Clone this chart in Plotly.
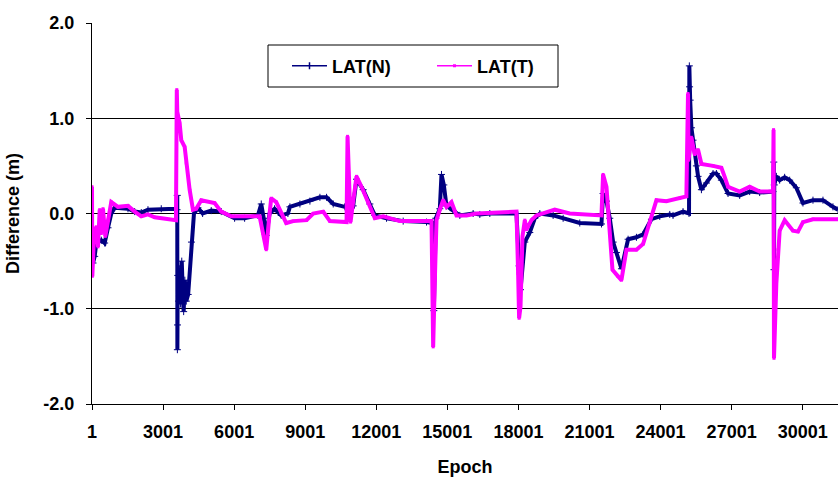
import plotly.graph_objects as go

# ---- data ----
epoch_n = [1, 43, 115, 183, 393, 535, 676, 815, 958, 1520, 1802, 2081, 2364, 2925, 3516, 3590,
           3600, 3605, 3610, 3620, 3660, 3700, 3740, 3790, 3840, 3870, 3920, 3980, 4060, 4200,
           4305, 4473, 4670, 5034, 5456, 6020, 6443, 7005, 7145, 7250, 7356, 7497, 7708, 7988,
           8270, 8355, 8777, 9199, 9621, 9902, 10183, 10675, 10815, 11025, 11166, 11447, 11729,
           11940, 12433, 13136, 14121, 14375, 14430, 14514, 14683, 14753, 14851, 14964, 15245,
           15527, 16089, 16371, 16793, 17918, 18029, 18088, 18270, 18481, 18692, 18903, 19466,
           19888, 20590, 21506, 21574, 21717, 21857, 21998, 22138, 22349, 22630, 22982, 23263,
           23615, 23966, 24388, 24527, 24949, 25202, 25215, 25225, 25250, 25302, 25370, 25513,
           25583, 25725, 25936, 26216, 26357, 26568, 26848, 27340, 27762, 28184, 28746, 28780,
           28788, 28800, 28888, 29028, 29238, 29450, 29731, 30012, 30434, 30855, 31277, 31490]
lat_n = [-0.20, -0.52, -0.45, -0.31, -0.28, -0.31, -0.15, 0.00, 0.06, 0.05, 0.02, 0.01, 0.04, 0.05, 0.05, 0.04,
         0.19, -1.43, -1.17, -0.65, -0.92, -0.58, -0.95, -0.50, -0.88, -1.03, -0.70, -0.92, -0.85, -0.30,
         0.00, 0.06, 0.00, 0.03, 0.02, -0.05, -0.05, -0.02, 0.10, -0.05, -0.23, 0.00, 0.05, -0.02,
         0.00, 0.07, 0.10, 0.13, 0.17, 0.17, 0.10, 0.07, 0.10, 0.08, 0.36, 0.25, 0.10,
         -0.02, -0.05, -0.08, -0.09, -0.10, -1.02, -0.05, 0.05, 0.41, 0.30, 0.08, 0.03,
         -0.02, 0.00, -0.01, 0.00, 0.00, -0.55, -0.80, -0.30, -0.20, -0.05, 0.00, -0.02,
         -0.05, -0.10, -0.11, 0.21, 0.13, -0.05, -0.30, -0.41, -0.58, -0.27, -0.25, -0.22,
         -0.06, -0.03, -0.01, -0.02, 0.02, 0.00, 1.55, 1.33, 1.19, 0.90, 0.77, 0.50,
         0.39, 0.25, 0.32, 0.42, 0.42, 0.35, 0.21, 0.19, 0.23, 0.22, 0.23, 0.54,
         -0.59, 0.30, 0.39, 0.35, 0.38, 0.35, 0.27, 0.11, 0.14, 0.14, 0.07, 0.04]

epoch_t = [1, 14, 85, 183, 254, 325, 393, 465, 562, 676, 815, 1098, 1520, 1802, 2081, 2364, 2646,
           3545, 3580, 3600, 3700, 3770, 3912, 3980, 4122, 4262, 4400, 4612, 5177, 5456, 5878,
           7075, 7215, 7356, 7497, 7566, 7777, 7988, 8199, 8494, 9058, 9339, 9761, 10042, 10746,
           10788, 10844, 10915, 11000, 11166, 11377, 11658, 11940, 12291, 12996, 14332, 14402,
           14472, 14543, 14683, 14824, 14964, 15175, 15386, 15808, 16230, 16793, 17918, 17988,
           18029, 18088, 18172, 18270, 18340, 18551, 18762, 19534, 20167, 21506, 21574, 21717,
           21830, 21970, 22206, 22349, 22560, 22982, 23263, 23544, 23826, 24247, 24809, 25090,
           25159, 25180, 25302, 25440, 25583, 25725, 26216, 26568, 26700, 26848, 27340, 27762,
           28184, 28746, 28770, 28788, 28888, 28960, 29028, 29238, 29590, 29800, 30012, 30434, 31490]
lat_t = [0.28, -0.66, -0.24, -0.14, -0.35, 0.04, -0.21, 0.05, -0.24, -0.07, 0.12, 0.07, 0.08, 0.02, -0.03, -0.01, -0.04,
         -0.07, 1.30, 1.07, 0.95, 0.77, 0.70, 0.53, 0.25, 0.04, 0.05, 0.14, 0.11, 0.02, -0.03,
         -0.03, -0.21, -0.38, 0.00, 0.16, 0.12, 0.00, -0.10, -0.08, -0.07, 0.00, 0.02, -0.08, -0.09,
         0.81, 0.23, -0.09, 0.08, 0.39, 0.28, 0.11, -0.05, -0.03, -0.08, -0.08, -1.40,
         -0.70, -0.07, 0.04, 0.14, 0.07, 0.12, -0.02, -0.02, 0.00, 0.01, 0.02, -0.63,
         -1.10, -0.98, -0.24, -0.07, -0.17, -0.07, -0.02, 0.04, 0.00, -0.02, 0.41, 0.28,
         -0.07, -0.59, -0.66, -0.70, -0.38, -0.38, -0.32, -0.10, 0.14, 0.13, 0.16, 0.18,
         1.26, 0.56, 0.80, 0.62, 0.67, 0.52, 0.50, 0.48, 0.39, 0.28, 0.23, 0.28,
         0.23, 0.23, 0.88, -1.52, -0.73, -0.38, -0.18, -0.07, -0.18, -0.19, -0.09, -0.06, -0.06]

x_ticks = [1, 3001, 6001, 9001, 12001, 15001, 18001, 21001, 24001, 27001, 30001]
x_tick_labels = [str(v) for v in x_ticks]
y_ticks = [-2, -1, 0, 1, 2]
y_tick_labels = ["-2.0", "-1.0", "0.0", "1.0", "2.0"]

NAVY = "#000080"
MAGENTA = "#FF00FF"
FONT = "Arial, 'Liberation Sans', sans-serif"

W, H = 838, 479
ML, MR, MT, MB = 92, 0, 23, 75
PW, PH = W - ML - MR, H - MT - MB


def px_to_paper_x(px):
    return (px - ML) / PW


def px_to_paper_y(py):
    return (H - MB - py) / PH


fig = go.Figure()
fig.add_trace(go.Scatter(x=epoch_n, y=lat_n, mode="lines+markers", name="LAT(N)",
                         line=dict(color=NAVY, width=4),
                         marker=dict(symbol="cross-thin", size=5, line=dict(color=NAVY, width=1)),
                         showlegend=False))
fig.add_trace(go.Scatter(x=epoch_t, y=lat_t, mode="lines+markers", name="LAT(T)",
                         line=dict(color=MAGENTA, width=4),
                         marker=dict(symbol="square", size=3, color=MAGENTA),
                         showlegend=False))
# legend entries
fig.add_trace(go.Scatter(x=[None], y=[None], mode="lines+markers", name="LAT(N)",
                         line=dict(color=NAVY, width=1.5),
                         marker=dict(symbol="line-ns", size=5, line=dict(color=NAVY, width=1.5))))
fig.add_trace(go.Scatter(x=[None], y=[None], mode="lines+markers", name="LAT(T)",
                         line=dict(color=MAGENTA, width=1.5),
                         marker=dict(symbol="square", size=3, color=MAGENTA)))

# legend frame
fig.add_shape(type="rect", xref="paper", yref="paper",
              x0=px_to_paper_x(268), x1=px_to_paper_x(558),
              y0=px_to_paper_y(87), y1=px_to_paper_y(45),
              line=dict(color="black", width=1), fillcolor="white", layer="above")

fig.update_layout(
    width=W, height=H,
    margin=dict(l=ML, r=MR, t=MT, b=MB),
    paper_bgcolor="white", plot_bgcolor="white",
    font=dict(family=FONT, color="black", size=18),
    legend=dict(orientation="h", x=px_to_paper_x(287), y=px_to_paper_y(66),
                xanchor="left", yanchor="middle",
                borderwidth=0, bgcolor="rgba(0,0,0,0)",
                font=dict(family=FONT, size=18, color="black", weight="bold"),
                entrywidth=95, itemwidth=35),
    xaxis=dict(range=[1, 31490], tickmode="array", tickvals=x_ticks, ticktext=x_tick_labels,
               showgrid=False, zeroline=False, showline=True, linecolor="black", linewidth=1,
               ticks="outside", ticklen=5, tickcolor="black", ticklabelstandoff=6,
               tickfont=dict(family=FONT, size=18, weight="bold"),
               title=dict(text="<b>Epoch</b>", font=dict(family=FONT, size=18), standoff=19)),
    yaxis=dict(range=[-2, 2], tickmode="array", tickvals=y_ticks, ticktext=y_tick_labels,
               showgrid=True, gridcolor="black", gridwidth=1, zeroline=False,
               showline=True, linecolor="black", linewidth=1,
               ticks="outside", ticklen=5, tickcolor="black", ticklabelstandoff=8,
               tickfont=dict(family=FONT, size=18, weight="bold"),
               title=dict(text="<b>Difference (m)</b>", font=dict(family=FONT, size=18), standoff=19)),
)

fig.write_html("out.html")
